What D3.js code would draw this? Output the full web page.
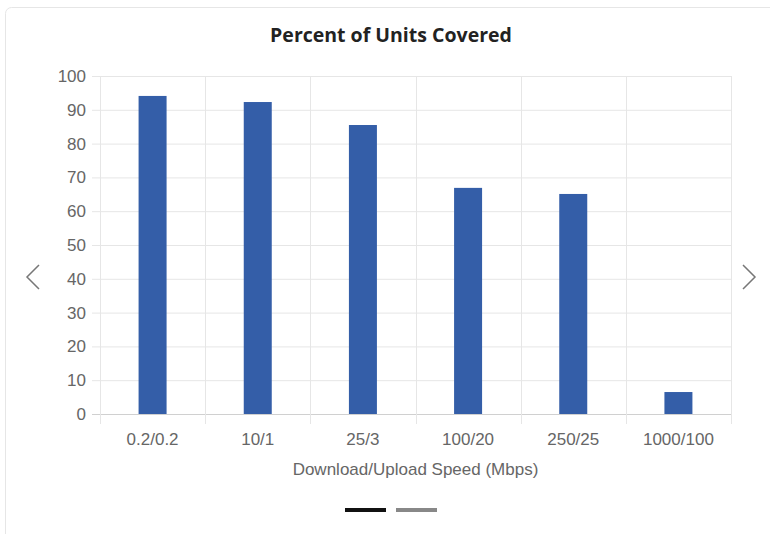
<!DOCTYPE html>
<html><head><meta charset="utf-8">
<script src="https://cdn.jsdelivr.net/npm/d3@7/dist/d3.min.js"></script>
<style>body{margin:0;background:#fff;font-family:"Open Sans","Liberation Sans",Arial,sans-serif;}</style>
</head><body><svg id="c" width="770" height="534"></svg>
<script>
const categories = ["0.2/0.2","10/1","25/3","100/20","250/25","1000/100"];
const values = [94.1, 92.3, 85.5, 66.9, 65.1, 6.5];
const yTicks = [0,10,20,30,40,50,60,70,80,90,100];
const title = "Percent of Units Covered";
const xTitle = "Download/Upload Speed (Mbps)";

const svg = d3.select("#c");
// card
svg.append("rect").attr("x",5.5).attr("y",7.5).attr("width",775).attr("height",540)
  .attr("rx",6).attr("fill","#fff").attr("stroke","#e6e6e6");

const m = {l:100, r:731, t:76, b:414};
const x = d3.scaleBand().domain(categories).range([m.l, m.r]);
const y = d3.scaleLinear().domain([0,100]).range([m.b, m.t]);

// grid
const g = svg.append("g");
g.selectAll(".hg").data(yTicks).join("line")
  .attr("x1",m.l-8).attr("x2",m.r).attr("y1",d=>y(d)+0.5).attr("y2",d=>y(d)+0.5)
  .attr("stroke",d=>d===0?"#d0d0d0":"#e6e6e6");
const vx = categories.map(c=>x(c)).concat([m.r]);
g.selectAll(".vg").data(vx).join("line")
  .attr("x1",d=>Math.round(d)+0.5).attr("x2",d=>Math.round(d)+0.5).attr("y1",m.t).attr("y2",m.b+10)
  .attr("stroke","#e6e6e6");

// bars
const bw = 28;
svg.selectAll(".bar").data(values).join("rect")
  .attr("x",(d,i)=>x(categories[i])+x.bandwidth()/2-bw/2)
  .attr("width",bw)
  .attr("y",d=>y(d)).attr("height",d=>y(0)-y(d))
  .attr("fill","#345ea8");

const lf = "Liberation Sans, Arial, sans-serif";
// y axis labels
svg.selectAll(".yl").data(yTicks).join("text")
  .attr("x",86).attr("y",d=>y(d)).attr("dy","0.35em").attr("text-anchor","end")
  .attr("font-family",lf).attr("font-size",17).attr("fill","#666")
  .text(d=>d);

// x labels
svg.selectAll(".xl").data(categories).join("text")
  .attr("x",d=>x(d)+x.bandwidth()/2).attr("y",445).attr("text-anchor","middle")
  .attr("font-family",lf).attr("font-size",17).attr("fill","#666")
  .text(d=>d);

svg.append("text").attr("x",(m.l+m.r)/2).attr("y",475).attr("text-anchor","middle")
  .attr("font-family",lf).attr("font-size",17).attr("fill","#666")
  .text(xTitle);

svg.append("text").attr("x",391).attr("y",42).attr("text-anchor","middle")
  .attr("font-family","Open Sans, sans-serif").attr("font-weight","bold").attr("font-size",19.5).attr("fill","#222")
  .text(title);

// arrows
svg.append("path").attr("d","M39,265 L27,277 L39,289").attr("fill","none").attr("stroke","#777").attr("stroke-width",1.5);
svg.append("path").attr("d","M743,265 L755,277 L743,289").attr("fill","none").attr("stroke","#777").attr("stroke-width",1.5);

// pager
svg.append("rect").attr("x",345).attr("y",508).attr("width",41).attr("height",4).attr("fill","#111");
svg.append("rect").attr("x",396).attr("y",508).attr("width",41).attr("height",4).attr("fill","#888");
</script></body></html>
